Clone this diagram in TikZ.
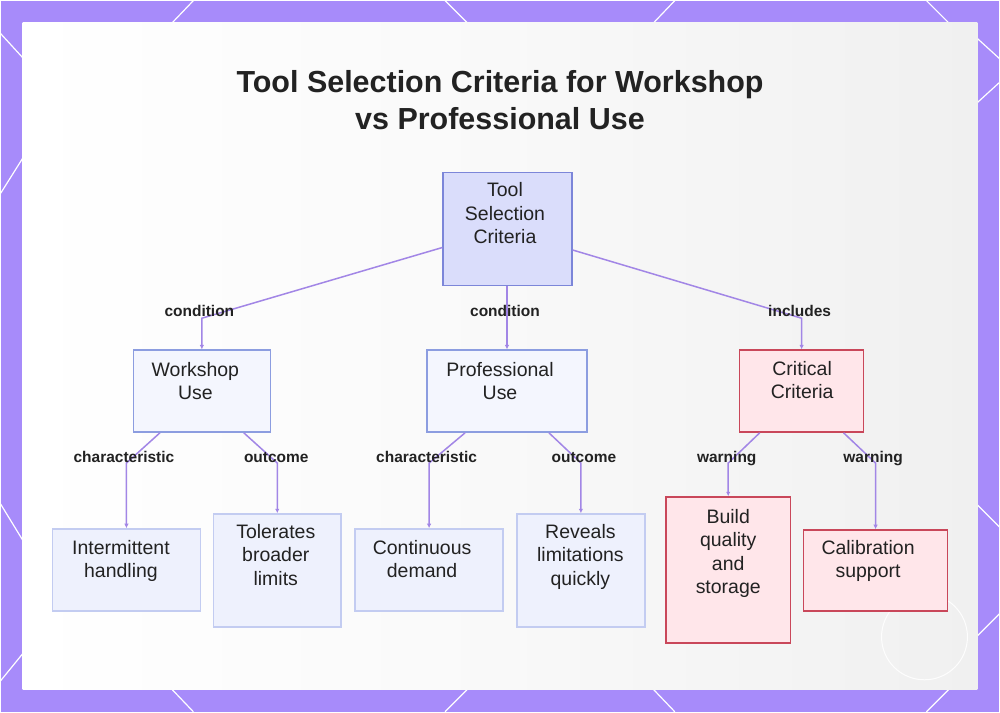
\documentclass[tikz,border=0pt]{standalone}
\usepackage{fontspec}
\setmainfont{Liberation Sans}
\usetikzlibrary{arrows.meta}

\definecolor{framepurple}{HTML}{A78BFA}
\definecolor{linkpurple}{HTML}{A286E6}
\definecolor{canvasgray}{HTML}{F0F0F0}
\definecolor{rootfill}{HTML}{DADDFB}
\definecolor{rootdraw}{HTML}{7C86D9}
\definecolor{midfill}{HTML}{F4F6FE}
\definecolor{middraw}{HTML}{8C9DE0}
\definecolor{leaffill}{HTML}{EEF1FD}
\definecolor{leafdraw}{HTML}{C3CCF1}
\definecolor{warnfill}{HTML}{FFE6EA}
\definecolor{warndraw}{HTML}{C9475A}
\definecolor{inktext}{HTML}{222222}

\tikzset{
	box/.style={draw, line width=1.5pt, inner sep=0pt},
	rootbox/.style={box, fill=rootfill, draw=rootdraw},
	midbox/.style={box, fill=midfill, draw=middraw},
	leafbox/.style={box, fill=leaffill, draw=leafdraw},
	warnbox/.style={box, fill=warnfill, draw=warndraw},
	boxtext/.style={anchor=north, align=center, inner sep=0pt, text=inktext, font=\fontsize{19.5}{23.5}\selectfont},
	lbl/.style={anchor=base, inner sep=0pt, text=inktext, font=\bfseries\fontsize{15.5}{18}\selectfont},
	link/.style={draw=linkpurple, line width=1.5pt, -{Latex[length=4.5pt,width=4.5pt]}},
	deco/.style={white, line width=1.2pt},
}

\begin{document}
\begin{tikzpicture}[x=1pt,y=-1pt]
		% frame and background
		\fill[framepurple] (0,0) rectangle (1000,712);
		\draw[deco] (172,22) -- (193,0);
		\draw[deco] (445,0) -- (467,22);
		\draw[deco] (654,22) -- (675,0);
		\draw[deco] (927,0) -- (949,22);
		\draw[deco] (172,690) -- (193,712);
		\draw[deco] (467,690) -- (445,712);
		\draw[deco] (654,690) -- (675,712);
		\draw[deco] (949,690) -- (927,712);
		\draw[deco] (0,33) -- (22,57);
		\draw[deco] (22,158) -- (0,193);
		\draw[deco] (0,504) -- (22,540);
		\draw[deco] (22,654) -- (0,681);
		\draw[deco] (978,38) -- (1000,58);
		\draw[deco] (1000,82) -- (978,102);
		\draw[deco] (978,505) -- (1000,527);
		\draw[deco] (1000,614) -- (978,636);
		\shade[left color=white, right color=canvasgray, middle color=white!60!canvasgray] (22,22) rectangle (978,690);
		\draw[white, line width=1pt, opacity=0.9] (925,637) circle (43);
		
		% title
		\node[anchor=north, align=center, inner sep=0pt, text=inktext, font=\bfseries\fontsize{30.5}{37.5}\selectfont] (title) at (500,69.5) {Tool Selection Criteria for Workshop\\vs Professional Use};
		
		% boxes
		\node[rootbox, minimum width=129pt, minimum height=113pt] (root) at (507.5,228.5) {};
		\node[midbox, minimum width=137pt, minimum height=82pt] (ws) at (201.5,391) {};
		\node[midbox, minimum width=160pt, minimum height=82pt] (pro) at (507,391) {};
		\node[warnbox, minimum width=124pt, minimum height=82pt] (crit) at (802,391) {};
		\node[leafbox, minimum width=148pt, minimum height=82pt] (inter) at (126,570) {};
		\node[leafbox, minimum width=128pt, minimum height=113pt] (tol) at (277,570.5) {};
		\node[leafbox, minimum width=148pt, minimum height=82pt] (cont) at (429,570) {};
		\node[leafbox, minimum width=128pt, minimum height=113pt] (rev) at (581,570.5) {};
		\node[warnbox, minimum width=125pt, minimum height=146pt] (build) at (728.5,570) {};
		\node[warnbox, minimum width=144pt, minimum height=81pt] (cal) at (876,570.5) {};
		
		% box texts
		\node[boxtext] (root-t) at (505,182) {Tool\\Selection\\Criteria};
		\node[boxtext] (ws-t) at (195,362) {Workshop\\Use};
		\node[boxtext] (pro-t) at (500,362) {Professional\\Use};
		\node[boxtext] (crit-t) at (802.5,361) {Critical\\Criteria};
		\node[boxtext] (inter-t) at (120.5,540) {Intermittent\\handling};
		\node[boxtext] (tol-t) at (275.5,524) {Tolerates\\broader\\limits};
		\node[boxtext] (cont-t) at (422,540) {Continuous\\demand};
		\node[boxtext] (rev-t) at (580.5,524) {Reveals\\limitations\\quickly};
		\node[boxtext] (build-t) at (728.5,509) {Build\\quality\\and\\storage};
		\node[boxtext] (cal-t) at (868.5,540) {Calibration\\support};
		
		% connectors
		\coordinate (bend-high) at (0,318);
		\coordinate (bend-low) at (0,463);
		\draw[link] (root.196) -- (ws.north |- bend-high) -- (ws.north);
		\draw[link] (root.south -| pro.north) -- (pro.north);
		\draw[link] (root.342) -- (crit.north |- bend-high) -- (crit.north);
		
		\draw[link] ([xshift=-42pt]ws.south) -- (inter.north |- bend-low) -- (inter.north);
		\draw[link] ([xshift=42pt]ws.south) -- (tol.north |- bend-low) -- (tol.north);
		\draw[link] ([xshift=-42pt]pro.south) -- (cont.north |- bend-low) -- (cont.north);
		\draw[link] ([xshift=42pt]pro.south) -- (rev.north |- bend-low) -- (rev.north);
		\draw[link] ([xshift=-42pt]crit.south) -- (build.north |- bend-low) -- (build.north);
		\draw[link] ([xshift=42pt]crit.south) -- (cal.north |- bend-low) -- (cal.north);
		
		% connector labels
		\node[lbl] (lbl-ws) at (199,316) {condition};
		\node[lbl] (lbl-pro) at (505,316) {condition};
		\node[lbl] (lbl-crit) at (800,316) {includes};
		\node[lbl] (lbl-inter) at (123.5,462) {characteristic};
		\node[lbl] (lbl-tol) at (276,462) {outcome};
		\node[lbl] (lbl-cont) at (426.5,462) {characteristic};
		\node[lbl] (lbl-rev) at (584,462) {outcome};
		\node[lbl] (lbl-build) at (727,462) {warning};
		\node[lbl] (lbl-cal) at (873.5,462) {warning};
\end{tikzpicture}
\end{document}
